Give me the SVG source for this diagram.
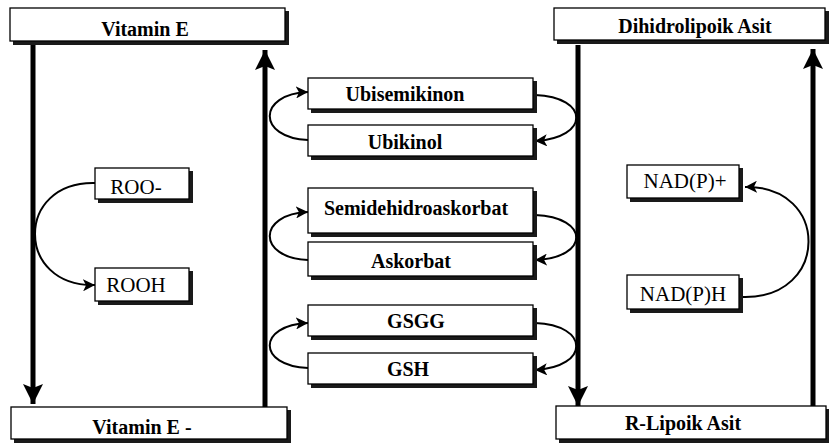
<svg xmlns="http://www.w3.org/2000/svg" width="829" height="446" viewBox="0 0 829 446">
<defs>
<style>
.bx{fill:#fff;stroke:#000;stroke-width:1.3}
.sh{fill:#1a1a1a}
.v{stroke:#000;stroke-width:5;fill:none}
.c{stroke:#000;stroke-width:2;fill:none}
.t{font-family:"Times New Roman","Liberation Serif",serif;font-weight:bold;font-size:20px;text-anchor:middle;fill:#000}
.r{font-family:"Times New Roman","Liberation Serif",serif;font-size:21px;text-anchor:middle;fill:#000}
</style>
<marker id="ah" markerUnits="userSpaceOnUse" markerWidth="14" markerHeight="12" refX="12" refY="6" orient="auto">
<path d="M0,0 L12,6 L0,12 L3,6 Z" fill="#000"/>
</marker>
<marker id="big" markerUnits="userSpaceOnUse" markerWidth="22" markerHeight="22" refX="20" refY="10" orient="auto">
<path d="M0,0 L20,10 L0,20 L4,10 Z" fill="#000"/>
</marker>
</defs>
<rect width="829" height="446" fill="#fff"/>

<g id="connectors">
<path class="v" d="M33,45 L33,404" marker-end="url(#big)"/>
<path class="v" d="M265,407 L265,50" marker-end="url(#big)"/>
<path class="v" d="M578,45 L578,406" marker-end="url(#big)"/>
<path class="v" d="M813,407 L813,49" marker-end="url(#big)"/>
<path class="c" d="M95,183 C15,181 15,287 95,285" marker-end="url(#ah)"/>
<path class="c" d="M743,297 C830,299 830,185 745,187" marker-end="url(#ah)"/>
<path class="c" d="M308,140 C257,138 257,94 308,92" marker-end="url(#ah)"/>
<path class="c" d="M308,260 C257,258 257,214 308,212" marker-end="url(#ah)"/>
<path class="c" d="M308,368 C257,366 257,325 308,323" marker-end="url(#ah)"/>
<path class="c" d="M535,95 C590,97 590,138 535,141" marker-end="url(#ah)"/>
<path class="c" d="M535,215 C590,217 590,258 535,260" marker-end="url(#ah)"/>
<path class="c" d="M535,323 C590,325 590,367 535,370" marker-end="url(#ah)"/>
</g>

<g id="vitaminE">
<rect class="sh" x="13" y="11" width="276" height="34"/>
<rect class="bx" x="10" y="8" width="275" height="33"/>
<text class="t" x="145" y="36">Vitamin E</text>
</g>
<g id="vitaminEminus">
<rect class="sh" x="14" y="410" width="277" height="33"/>
<rect class="bx" x="11" y="407" width="276" height="32"/>
<text class="t" x="142" y="434">Vitamin E -</text>
</g>
<g id="dihidrolipoik">
<rect class="sh" x="557" y="11" width="272" height="33"/>
<rect class="bx" x="554" y="8" width="271" height="32"/>
<text class="t" x="695" y="33">Dihidrolipoik Asit</text>
</g>
<g id="rlipoik">
<rect class="sh" x="559" y="409" width="270" height="34"/>
<rect class="bx" x="556" y="406" width="270" height="33"/>
<text class="t" x="683" y="430">R-Lipoik Asit</text>
</g>

<g id="ubisemikinon">
<rect class="sh" x="311" y="81" width="226" height="32"/>
<rect class="bx" x="308" y="78" width="225" height="31"/>
<text class="t" x="405" y="101">Ubisemikinon</text>
</g>
<g id="ubikinol">
<rect class="sh" x="311" y="128" width="226" height="32"/>
<rect class="bx" x="308" y="125" width="225" height="31"/>
<text class="t" x="405" y="149">Ubikinol</text>
</g>
<g id="semidehidroaskorbat">
<rect class="sh" x="311" y="191" width="226" height="46"/>
<rect class="bx" x="308" y="188" width="225" height="45"/>
<text class="t" x="416" y="215">Semidehidroaskorbat</text>
</g>
<g id="askorbat">
<rect class="sh" x="311" y="245" width="226" height="35"/>
<rect class="bx" x="308" y="242" width="225" height="34"/>
<text class="t" x="411" y="268">Askorbat</text>
</g>
<g id="gsgg">
<rect class="sh" x="311" y="308" width="226" height="32"/>
<rect class="bx" x="308" y="305" width="225" height="31"/>
<text class="t" x="416" y="328">GSGG</text>
</g>
<g id="gsh">
<rect class="sh" x="311" y="356" width="226" height="32"/>
<rect class="bx" x="308" y="353" width="225" height="31"/>
<text class="t" x="408" y="376">GSH</text>
</g>

<g id="roo">
<rect class="sh" x="98" y="171" width="95" height="32"/>
<rect class="bx" x="95" y="168" width="94" height="31"/>
<text class="r" x="136" y="194">ROO-</text>
</g>
<g id="rooh">
<rect class="sh" x="98" y="271" width="95" height="34"/>
<rect class="bx" x="95" y="268" width="94" height="33"/>
<text class="r" x="136" y="292">ROOH</text>
</g>
<g id="nadp">
<rect class="sh" x="630" y="168" width="113" height="34"/>
<rect class="bx" x="627" y="165" width="112" height="33"/>
<text class="r" x="685" y="188">NAD(P)+</text>
</g>
<g id="nadph">
<rect class="sh" x="630" y="278" width="113" height="35"/>
<rect class="bx" x="627" y="275" width="112" height="34"/>
<text class="r" x="683" y="301">NAD(P)H</text>
</g>
</svg>
